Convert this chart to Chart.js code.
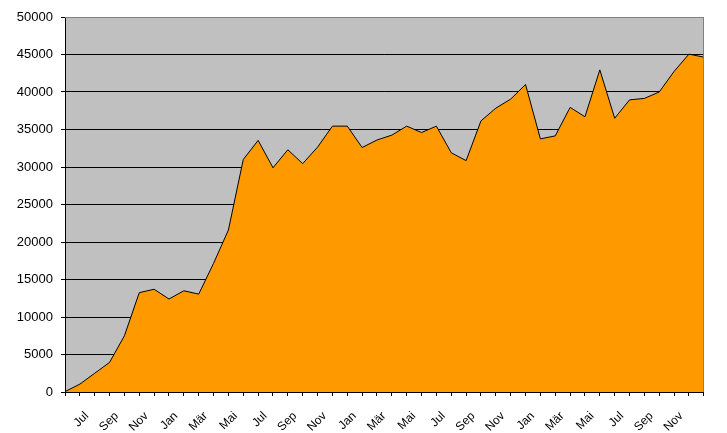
<!DOCTYPE html>
<html>
<head>
<meta charset="utf-8">
<script src="https://cdn.jsdelivr.net/npm/chart.js@4/dist/chart.umd.min.js"></script>
<style>
html,body{margin:0;padding:0;background:#fff;}
#wrap{width:727px;height:433px;}
</style>
</head>
<body>
<div id="wrap"><canvas id="c" width="727" height="433"></canvas></div>
<script>
const months = ["Jun","Jul","Aug","Sep","Okt","Nov","Dez","Jan","Feb","Mär","Apr","Mai",
                "Jun","Jul","Aug","Sep","Okt","Nov","Dez","Jan","Feb","Mär","Apr","Mai",
                "Jun","Jul","Aug","Sep","Okt","Nov","Dez","Jan","Feb","Mär","Apr","Mai",
                "Jun","Jul","Aug","Sep","Okt","Nov","Dez","Jan"];
const values = [50,1050,2500,3950,7500,13250,13700,12400,13500,13050,17150,21600,
                31000,33550,29900,32300,30450,32650,35450,35450,32600,33600,34250,35450,
                34600,35450,31900,30850,36150,37850,39050,41000,33750,34150,37950,36700,
                42950,36500,38950,39150,40000,42750,45050,44650];
const yMin = 0, yMax = 50000, yStep = 5000;

const plotBg = {
  id: 'plotBg',
  beforeDraw(chart) {
    const {ctx, chartArea: a} = chart;
    ctx.save();
    ctx.fillStyle = '#C0C0C0';
    ctx.fillRect(a.left, a.top, a.right - a.left, a.bottom - a.top);
    ctx.restore();
  },
  afterDatasetsDraw(chart) {
    const {ctx, chartArea: a} = chart;
    ctx.save();
    ctx.strokeStyle = '#808080';
    ctx.lineWidth = 1;
    ctx.beginPath();
    ctx.moveTo(a.left, Math.round(a.top) + 0.5);
    ctx.lineTo(Math.round(a.right) - 0.5, Math.round(a.top) + 0.5);
    ctx.lineTo(Math.round(a.right) - 0.5, a.bottom);
    ctx.stroke();
    ctx.restore();
  }
};

new Chart(document.getElementById('c'), {
  type: 'line',
  data: {
    labels: months,
    datasets: [{
      data: values,
      borderColor: '#000000',
      borderWidth: 1,
      backgroundColor: '#FF9900',
      fill: 'origin',
      pointRadius: 0,
      tension: 0
    }]
  },
  options: {
    responsive: false,
    animation: false,
    events: [],
    layout: { padding: { left: 0, right: 1, top: 17, bottom: 0 } },
    plugins: { legend: { display: false }, tooltip: { enabled: false } },
    scales: {
      x: {
        type: 'category',
        offset: false,
        grid: { drawOnChartArea: false, drawTicks: true, tickLength: 4, tickColor: '#000', color: '#000' },
        border: { display: true, color: '#000', width: 1 },
        ticks: {
          autoSkip: false,
          minRotation: 45,
          maxRotation: 45,
          padding: 13,
          labelOffset: 7,
          color: '#000',
          font: { family: '"Liberation Sans", Arial, sans-serif', size: 12 },
          callback: function(v, i) { return (i % 2 === 1 && i < months.length - 1) ? months[i] : ''; }
        },
        afterFit(scale) { scale.height = 41; }
      },
      y: {
        min: yMin,
        max: yMax,
        grid: {
          color: (ctx) => (ctx.tick && ctx.tick.value === yMax) ? '#808080' : '#000000',
          lineWidth: 1,
          drawTicks: true,
          tickLength: 4,
          tickColor: '#000'
        },
        border: { display: true, color: '#000', width: 1 },
        ticks: {
          stepSize: yStep,
          padding: 8,
          color: '#000',
          font: { family: '"Liberation Sans", Arial, sans-serif', size: 13 },
          callback: (v) => String(v)
        },
        afterFit(scale) { scale.width = 65; }
      }
    }
  },
  plugins: [plotBg]
});
</script>
</body>
</html>
